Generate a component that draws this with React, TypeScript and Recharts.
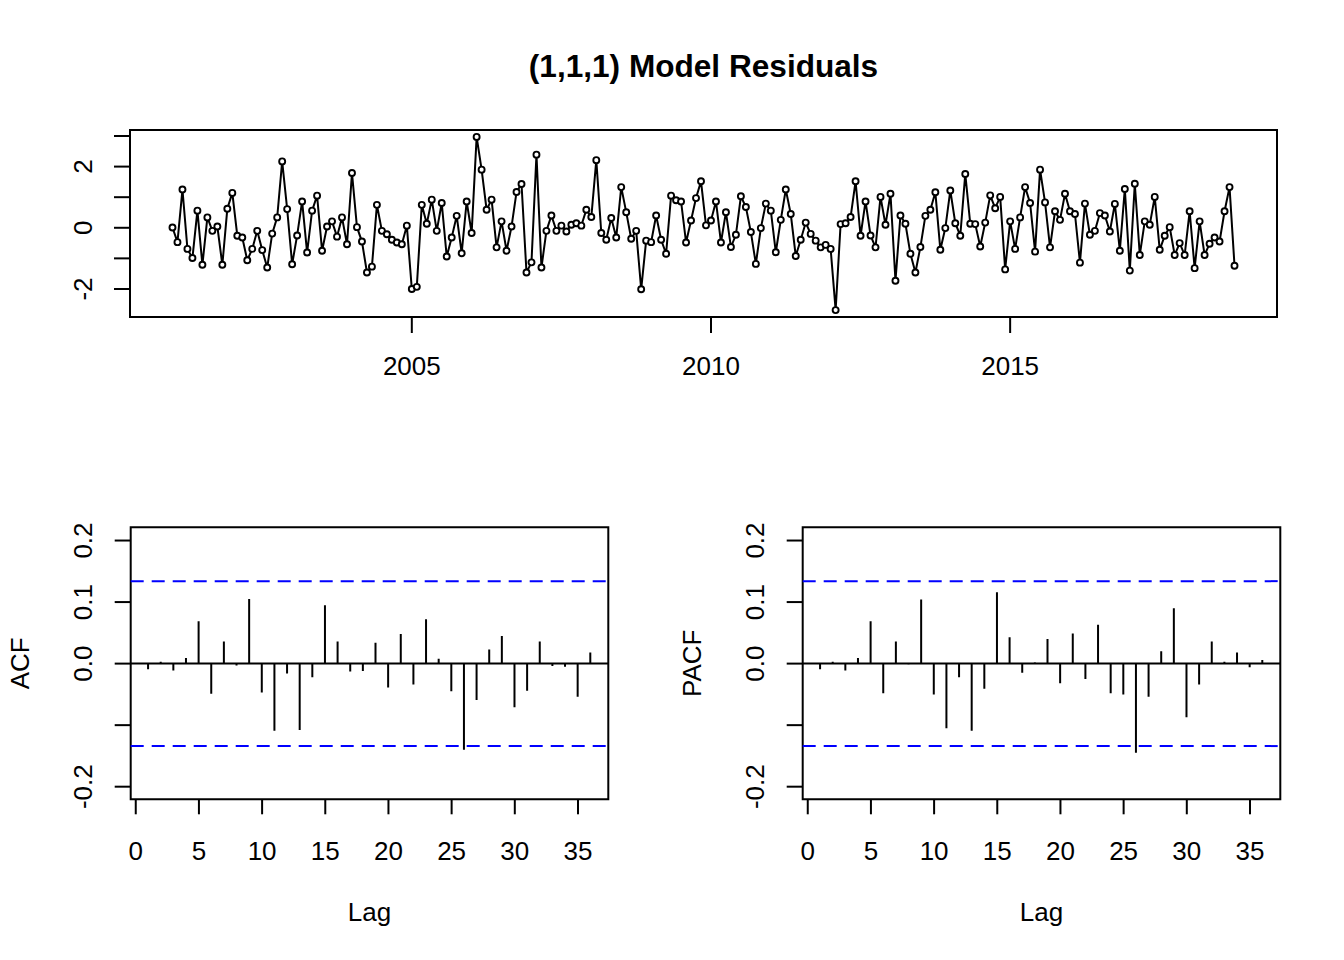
import React from 'react';
import {
  LineChart,
  Line,
  XAxis,
  YAxis,
  ReferenceArea,
  ReferenceLine,
  ComposedChart,
  Bar,
} from 'recharts';

const FONT = '"Liberation Sans", Arial, Helvetica, sans-serif';
const FS = 26;

// ---------- Data ----------
const START_YEAR = 2001;
const FREQ = 12;

const residuals = [
  0.01, -0.47, 1.25, -0.69, -0.99, 0.56, -1.21, 0.34, -0.1, 0.04,
  -1.21, 0.62, 1.14, -0.26, -0.32, -1.06, -0.69, -0.1, -0.73, -1.3,
  -0.19, 0.34, 2.17, 0.61, -1.19, -0.25, 0.86, -0.81, 0.56, 1.05,
  -0.75, 0.04, 0.21, -0.29, 0.34, -0.54, 1.79, 0.02, -0.45, -1.46,
  -1.27, 0.75, -0.1, -0.21, -0.39, -0.48, -0.54, 0.07, -2.0, -1.93,
  0.75, 0.13, 0.92, -0.1, 0.81, -0.94, -0.32, 0.39, -0.83, 0.86,
  -0.17, 2.97, 1.9, 0.59, 0.92, -0.64, 0.21, -0.75, 0.04, 1.17,
  1.43, -1.46, -1.13, 2.39, -1.3, -0.1, 0.4, -0.1, 0.07, -0.12,
  0.1, 0.15, 0.07, 0.59, 0.35, 2.21, -0.17, -0.39, 0.32, -0.32,
  1.33, 0.51, -0.36, -0.1, -2.01, -0.42, -0.47, 0.4, -0.39, -0.85,
  1.05, 0.9, 0.86, -0.48, 0.24, 0.97, 1.52, 0.08, 0.24, 0.86,
  -0.48, 0.51, -0.63, -0.23, 1.03, 0.68, -0.14, -1.18, -0.01, 0.79,
  0.56, -0.8, 0.26, 1.25, 0.45, -0.92, -0.39, 0.17, -0.2, -0.42,
  -0.64, -0.56, -0.69, -2.69, 0.12, 0.15, 0.35, 1.52, -0.26, 0.86,
  -0.25, -0.64, 1.01, 0.1, 1.11, -1.73, 0.4, 0.13, -0.85, -1.46,
  -0.63, 0.39, 0.59, 1.16, -0.72, -0.01, 1.22, 0.15, -0.26, 1.76,
  0.13, 0.12, -0.61, 0.17, 1.06, 0.64, 1.01, -1.36, 0.21, -0.69,
  0.34, 1.33, 0.81, -0.78, 1.9, 0.83, -0.64, 0.54, 0.26, 1.11,
  0.54, 0.45, -1.14, 0.79, -0.23, -0.1, 0.48, 0.4, -0.12, 0.78,
  -0.75, 1.27, -1.4, 1.44, -0.89, 0.21, 0.1, 1.01, -0.72, -0.26,
  0.02, -0.89, -0.5, -0.89, 0.54, -1.32, 0.21, -0.89, -0.52, -0.32,
  -0.45, 0.54, 1.33, -1.24,
];

const yearTicks = [2005, 2010, 2015];
const residTicks = [-2, -1, 0, 1, 2, 3];
const residLabelled = [-2, 0, 2];

const lags = [
  1, 2, 3, 4, 5, 6, 7, 8, 9, 10, 11, 12, 13, 14, 15, 16, 17, 18,
  19, 20, 21, 22, 23, 24, 25, 26, 27, 28, 29, 30, 31, 32, 33, 34, 35, 36,
];
const acfValues = [
  -0.009, 0.003, -0.011, 0.009, 0.069, -0.049, 0.036, -0.003, 0.105, -0.047,
  -0.109, -0.016, -0.108, -0.022, 0.095, 0.036, -0.013, -0.012, 0.034, -0.039,
  0.048, -0.034, 0.072, 0.008, -0.045, -0.14, -0.059, 0.023, 0.045, -0.071,
  -0.044, 0.036, -0.004, -0.005, -0.054, 0.018,
];
const pacfValues = [
  -0.009, 0.003, -0.011, 0.009, 0.069, -0.048, 0.036, -0.001, 0.104, -0.05,
  -0.105, -0.022, -0.109, -0.041, 0.116, 0.043, -0.015, 0.002, 0.04, -0.032,
  0.049, -0.025, 0.063, -0.048, -0.05, -0.145, -0.054, 0.02, 0.09, -0.087,
  -0.034, 0.036, 0.003, 0.018, -0.006, 0.006,
];
const CI = 0.134;
const corTicks = [-0.2, -0.1, 0, 0.1, 0.2];
const corLabelled = [-0.2, 0, 0.1, 0.2];
const lagTicks = [0, 5, 10, 15, 20, 25, 30, 35];

// ---------- Derived tables ----------
const residData = residuals.map((v, i) => ({ t: START_YEAR + i / FREQ, v }));
const acfData = lags.map((lag, i) => ({ lag, value: acfValues[i] }));
const pacfData = lags.map((lag, i) => ({ lag, value: pacfValues[i] }));

const RES_X: [number, number] = [2000.29, 2019.46];
const RES_Y: [number, number] = [-2.916, 3.196];
const LAG_X: [number, number] = [-0.4, 37.4];
const COR_Y: [number, number] = [-0.2205, 0.2215];

const W = 1344;
const H = 960;

const isIn = (arr: number[], v: number) => arr.some((a) => Math.abs(a - v) < 1e-9);

const makeYTick = (labelled: number[], fmt: (v: number) => string, cx: number) => (props: any) => {
  const { y, payload } = props;
  const v = Number(payload.value);
  if (!isIn(labelled, v)) return <g />;
  return (
    <text
      transform={`translate(${cx},${y}) rotate(-90)`}
      y={FS * 0.358}
      textAnchor="middle"
      fontFamily={FONT}
      fontSize={FS}
      fill="#000"
    >
      {fmt(v)}
    </text>
  );
};

const makeXTick = (baseline: number) => (props: any) => (
  <text x={props.x} y={baseline} textAnchor="middle" fontFamily={FONT} fontSize={FS} fill="#000">
    {String(props.payload.value)}
  </text>
);

const tickLineStyle = { stroke: '#000', strokeWidth: 2 };

function CorrPlot({ data, left, right, cx }: { data: any[]; left: number; right: number; cx: number }) {
  return (
    <div style={{ position: 'absolute', left: 0, top: 0 }}>
      <ComposedChart
        width={W}
        height={H}
        data={data}
        margin={{ left: left - 60, right: W - right, top: 527.3, bottom: H - 799.3 - 30 }}
      >
        <XAxis
          type="number"
          dataKey="lag"
          domain={LAG_X}
          allowDataOverflow
          ticks={lagTicks}
          interval={0}
          height={30}
          tickSize={15}
          tickMargin={0}
          axisLine={false}
          tickLine={tickLineStyle}
          tick={makeXTick(860.3)}
        />
        <YAxis
          type="number"
          domain={COR_Y}
          allowDataOverflow
          ticks={corTicks}
          interval={0}
          width={60}
          tickSize={16}
          tickMargin={0}
          axisLine={false}
          tickLine={tickLineStyle}
          tick={makeYTick(corLabelled, (v) => v.toFixed(1), cx)}
        />
        <ReferenceLine y={CI} stroke="#0000ff" strokeWidth={2} strokeDasharray="13 8" ifOverflow="visible" />
        <ReferenceLine y={-CI} stroke="#0000ff" strokeWidth={2} strokeDasharray="13 8" ifOverflow="visible" />
        <ReferenceLine y={0} stroke="#000" strokeWidth={2} ifOverflow="visible" />
        <Bar dataKey="value" fill="#000" barSize={2} isAnimationActive={false} />
        <ReferenceArea
          x1={LAG_X[0]}
          x2={LAG_X[1]}
          y1={COR_Y[0]}
          y2={COR_Y[1]}
          fill="none"
          fillOpacity={0}
          stroke="#000"
          strokeWidth={2}
          ifOverflow="visible"
        />
      </ComposedChart>
    </div>
  );
}

export default function App() {
  return (
    <div style={{ position: 'absolute', left: 0, top: 0, width: W, height: H, background: '#fff' }}>
      <div style={{ position: 'absolute', left: 0, top: 0 }}>
        <LineChart
          width={W}
          height={H}
          data={residData}
          margin={{ left: 130 - 60, right: W - 1277, top: 130, bottom: H - 317 - 30 }}
        >
          <XAxis
            type="number"
            dataKey="t"
            domain={RES_X}
            allowDataOverflow
            ticks={yearTicks}
            interval={0}
            height={30}
            tickSize={16}
            tickMargin={0}
            axisLine={false}
            tickLine={tickLineStyle}
            tick={makeXTick(375.3)}
          />
          <YAxis
            type="number"
            domain={RES_Y}
            allowDataOverflow
            ticks={residTicks}
            interval={0}
            width={60}
            tickSize={16}
            tickMargin={0}
            axisLine={false}
            tickLine={tickLineStyle}
            tick={makeYTick(residLabelled, (v) => String(v), 83)}
          />
          <ReferenceArea
            x1={RES_X[0]}
            x2={RES_X[1]}
            y1={RES_Y[0]}
            y2={RES_Y[1]}
            fill="none"
            fillOpacity={0}
            stroke="#000"
            strokeWidth={2}
            ifOverflow="visible"
          />
          <Line
            type="linear"
            dataKey="v"
            stroke="#000"
            strokeWidth={2}
            dot={{ r: 3, fill: '#fff', stroke: '#000', strokeWidth: 1.9 }}
            isAnimationActive={false}
          />
        </LineChart>
      </div>

      <CorrPlot data={acfData} left={130.7} right={608.3} cx={82.7} />
      <CorrPlot data={pacfData} left={802.7} right={1280.3} cx={754.7} />

      <svg
        width={W}
        height={H}
        style={{ position: 'absolute', left: 0, top: 0, pointerEvents: 'none' }}
        fontFamily={FONT}
      >
        <text x={703.5} y={77} textAnchor="middle" fontSize={31.6} fontWeight="bold" fill="#000">
          (1,1,1) Model Residuals
        </text>
        <text x={369.5} y={921} textAnchor="middle" fontSize={FS} fill="#000">
          Lag
        </text>
        <text x={1041.5} y={921} textAnchor="middle" fontSize={FS} fill="#000">
          Lag
        </text>
        <text transform="translate(19.5,663.3) rotate(-90)" y={FS * 0.358} textAnchor="middle" fontSize={FS} fill="#000">
          ACF
        </text>
        <text transform="translate(691.5,663.3) rotate(-90)" y={FS * 0.358} textAnchor="middle" fontSize={FS} fill="#000">
          PACF
        </text>
      </svg>
    </div>
  );
}
